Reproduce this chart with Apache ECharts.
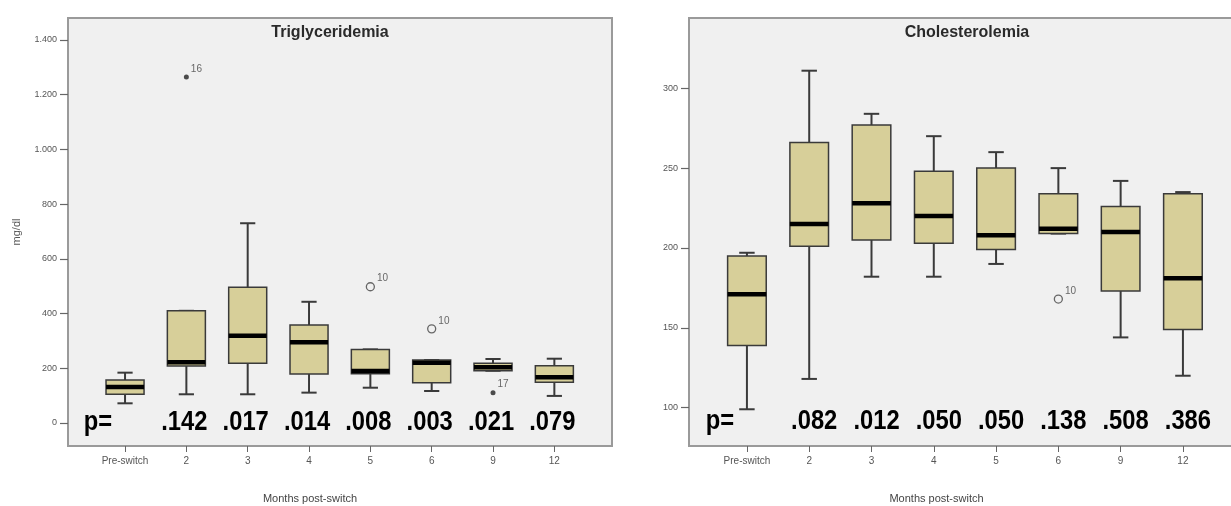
<!DOCTYPE html>
<html>
<head>
<meta charset="utf-8">
<title>Triglyceridemia and Cholesterolemia after switch</title>
<script src="https://cdn.jsdelivr.net/npm/echarts@6/dist/echarts.min.js"></script>
<style>
  html, body { margin: 0; padding: 0; background: #ffffff; }
  #chart { width: 1231px; height: 506px; }
</style>
</head>
<body>
<div id="chart"></div>
<script>
// Time points (months after the switch)
const categories = ['Pre-switch', '2', '3', '4', '5', '6', '9', '12'];

// Triglyceridemia, mg/dl: [min, Q1, median, Q3, max] for each time point
const trigBoxes = [
  [72, 105, 132, 157, 184],
  [105, 208, 222, 410, 410],
  [105, 218, 319, 496, 730],
  [111, 179, 295, 358, 443],
  [129, 180, 190, 269, 269],
  [117, 147, 220, 230, 230],
  [191, 191, 204, 218, 234],
  [99, 149, 167, 209, 235]
];
// Outliers: [time point index, value, case number, kind]
const trigOutliers = [
  [1, 1264, '16', 'extreme'],
  [4, 498, '10', 'outlier'],
  [5, 344, '10', 'outlier'],
  [6, 111, '17', 'extreme']
];
const trigPValues = ['.142', '.017', '.014', '.008', '.003', '.021', '.079'];
const trigTicks = [0, 200, 400, 600, 800, 1000, 1200, 1400];
const trigPRow = 0;

// Cholesterolemia, mg/dl: [min, Q1, median, Q3, max]
const cholBoxes = [
  [99, 139, 171, 195, 197],
  [118, 201, 215, 266, 311],
  [182, 205, 228, 277, 284],
  [182, 203, 220, 248, 270],
  [190, 199, 208, 250, 260],
  [209, 209, 212, 234, 250],
  [144, 173, 210, 226, 242],
  [120, 149, 181, 234, 235]
];
const cholOutliers = [
  [5, 168, '10', 'outlier']
];
const cholPValues = ['.082', '.012', '.050', '.050', '.138', '.508', '.386'];
const cholTicks = [100, 150, 200, 250, 300];
const cholPRow = 91;

const catIdx = categories.map((_, i) => i);

const BOX_FILL = '#d7cf99';
const INK = '#3a3a3a';
const baseFont = '"Liberation Sans", Arial, sans-serif';

function fmtThousands(v) {
  return String(v).replace(/(\d)(\d{3})$/, '$1.$2');
}

// Box-and-whisker drawn through the axes of its grid
function renderBox(params, api) {
  const x = api.value(0);
  const mn = api.value(1), q1 = api.value(2), md = api.value(3), q3 = api.value(4), mx = api.value(5);
  const band = api.size([1, 0])[0];
  const half = band * 0.31;
  const capHalf = half * 0.4;
  const pMin = api.coord([x, mn]);
  const pQ1 = api.coord([x, q1]);
  const pMd = api.coord([x, md]);
  const pQ3 = api.coord([x, q3]);
  const pMax = api.coord([x, mx]);
  const cx = pMd[0];
  const whisker = { stroke: INK, lineWidth: 2 };
  return {
    type: 'group',
    children: [
      { type: 'line', shape: { x1: cx, y1: pMin[1], x2: cx, y2: pQ1[1] }, style: whisker },
      { type: 'line', shape: { x1: cx, y1: pQ3[1], x2: cx, y2: pMax[1] }, style: whisker },
      { type: 'line', shape: { x1: cx - capHalf, y1: pMin[1], x2: cx + capHalf, y2: pMin[1] }, style: whisker },
      { type: 'line', shape: { x1: cx - capHalf, y1: pMax[1], x2: cx + capHalf, y2: pMax[1] }, style: whisker },
      {
        type: 'rect',
        shape: { x: cx - half, y: pQ3[1], width: half * 2, height: pQ1[1] - pQ3[1] },
        style: { fill: BOX_FILL, stroke: INK, lineWidth: 1.5 }
      },
      { type: 'line', shape: { x1: cx - half, y1: pMd[1], x2: cx + half, y2: pMd[1] }, style: { stroke: '#000', lineWidth: 4.5 } }
    ]
  };
}

function boxSeries(boxes, axisIndex) {
  return {
    type: 'custom',
    xAxisIndex: axisIndex,
    yAxisIndex: axisIndex,
    renderItem: renderBox,
    encode: { x: 0, y: [1, 2, 3, 4, 5] },
    data: boxes.map((b, i) => [i].concat(b)),
    z: 3
  };
}

function outlierSeries(list, axisIndex) {
  return {
    type: 'scatter',
    xAxisIndex: axisIndex,
    yAxisIndex: axisIndex,
    z: 4,
    data: list.map(o => ({
      value: [o[0], o[1]],
      name: o[2],
      symbol: 'circle',
      symbolSize: o[3] === 'extreme' ? 5 : 8,
      itemStyle: o[3] === 'extreme'
        ? { color: '#222', borderWidth: 0 }
        : { color: 'rgba(0,0,0,0)', borderColor: '#444', borderWidth: 1.3 }
    })),
    label: {
      show: true,
      position: 'right',
      distance: 2,
      offset: [0, -8],
      formatter: p => p.name,
      fontFamily: baseFont,
      fontSize: 10,
      color: '#444'
    }
  };
}

// Row of p-values under the boxes, in a narrowed bold face
function pSeries(values, row, axisIndex, shift) {
  const texts = ['p='].concat(values);
  return {
    type: 'custom',
    xAxisIndex: axisIndex,
    yAxisIndex: axisIndex,
    z: 5,
    encode: { x: 0, y: 1 },
    data: texts.map((_, i) => [i, row]),
    renderItem: function (params, api) {
      const pt = api.coord([api.value(0), api.value(1)]);
      const i = params.dataIndex;
      const dx = i === 0 ? -27 : shift;
      return {
        type: 'text',
        x: pt[0] + dx,
        y: pt[1],
        scaleX: 0.88,
        style: {
          text: texts[i],
          font: 'bold 27px ' + baseFont,
          fill: '#000',
          textAlign: 'center',
          textVerticalAlign: 'middle'
        }
      };
    }
  };
}

function xAxisDef(gridIndex, min, max, namePad) {
  return {
    type: 'value',
    gridIndex: gridIndex,
    position: 'bottom',
    min: min,
    max: max,
    name: 'Months post-switch',
    nameLocation: 'middle',
    nameGap: 47,
    nameTextStyle: { fontFamily: baseFont, fontSize: 11, color: '#444', padding: [0, namePad, 0, 0] },
    axisLine: { show: false, onZero: false },
    splitLine: { show: false },
    axisTick: { show: true, customValues: catIdx, length: 6, lineStyle: { color: '#666', width: 1 } },
    axisLabel: {
      customValues: catIdx,
      formatter: v => categories[Math.round(v)],
      fontFamily: baseFont,
      fontSize: 10,
      color: '#555',
      margin: 10
    }
  };
}

function yAxisDef(gridIndex, min, max, ticks, name) {
  return {
    type: 'value',
    gridIndex: gridIndex,
    position: 'left',
    min: min,
    max: max,
    name: name,
    nameLocation: 'middle',
    nameGap: 46,
    nameTextStyle: { fontFamily: baseFont, fontSize: 11, color: '#555' },
    axisLine: { show: false, onZero: false },
    splitLine: { show: false },
    axisTick: { show: true, customValues: ticks, length: 8, lineStyle: { color: '#666', width: 1.2 } },
    axisLabel: {
      customValues: ticks,
      formatter: fmtThousands,
      fontFamily: baseFont,
      fontSize: 9,
      color: '#555',
      margin: 11
    }
  };
}

const chart = echarts.init(document.getElementById('chart'), null, { renderer: 'canvas' });

const gridFrame = {
  top: 18, height: 428, show: true,
  backgroundColor: '#f0f0f0', borderColor: '#9a9a9a', borderWidth: 2,
  containLabel: false, outerBoundsMode: 'none'
};

chart.setOption({
  backgroundColor: '#ffffff',
  animation: false,
  grid: [
    Object.assign({ left: 68, width: 544 }, gridFrame),
    Object.assign({ left: 689, width: 545 }, gridFrame)
  ],
  xAxis: [
    xAxisDef(0, -0.93, 7.94, 60),
    xAxisDef(1, -0.93, 7.82, 50)
  ],
  yAxis: [
    yAxisDef(0, -84, 1480, trigTicks, 'mg/dl'),
    yAxisDef(1, 76, 344, cholTicks, '')
  ],
  graphic: [
    {
      type: 'text', x: 330, y: 33, z: 10,
      style: { text: 'Triglyceridemia', textAlign: 'center', textVerticalAlign: 'middle', font: 'bold 16px ' + baseFont, fill: '#2a2a2a' }
    },
    {
      type: 'text', x: 967, y: 33, z: 10,
      style: { text: 'Cholesterolemia', textAlign: 'center', textVerticalAlign: 'middle', font: 'bold 16px ' + baseFont, fill: '#2a2a2a' }
    }
  ],
  series: [
    boxSeries(trigBoxes, 0),
    outlierSeries(trigOutliers, 0),
    pSeries(trigPValues, trigPRow, 0, -2),
    boxSeries(cholBoxes, 1),
    outlierSeries(cholOutliers, 1),
    pSeries(cholPValues, cholPRow, 1, 5)
  ]
});
</script>
</body>
</html>
